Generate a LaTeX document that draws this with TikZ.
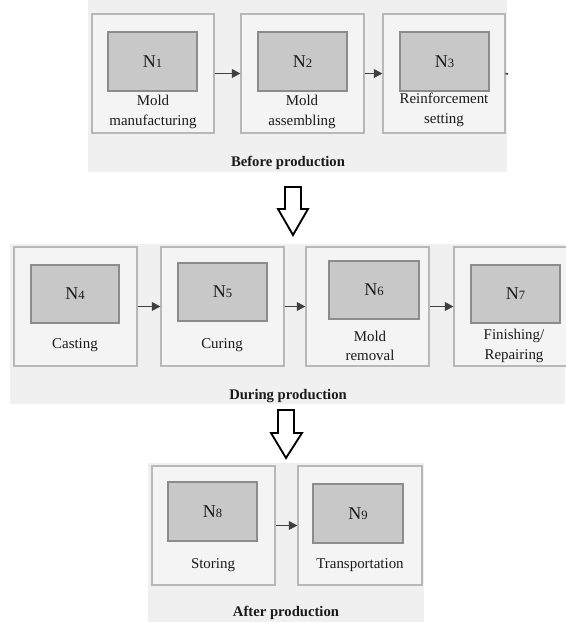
\documentclass[tikz,border=0pt]{standalone}
\usepackage{fontspec}
\setmainfont{Liberation Serif}
\usetikzlibrary{arrows.meta,fit}
\definecolor{panelc}{HTML}{F0F0F0}
\definecolor{outerf}{HTML}{F4F4F4}
\definecolor{outerd}{HTML}{B8B8B8}
\definecolor{innerf}{HTML}{C8C8C8}
\definecolor{innerd}{HTML}{8C8C8C}
\definecolor{arrc}{HTML}{404040}
\definecolor{txt}{HTML}{1A1A1A}
\newcommand{\nlab}[1]{{\fontsize{13.5}{15}\selectfont N\fontsize{9.5}{10}\selectfont #1}}
\begin{document}
\begin{tikzpicture}[x=0.75pt,y=-0.75pt,
  panel/.style={fill=panelc,draw=none},
  outerbox/.style={draw=outerd,fill=outerf,line width=0.8pt,inner sep=0pt},
  innerbox/.style={draw=innerd,fill=innerf,line width=0.8pt,inner sep=0pt},
  lbl/.style={text=txt,font=\fontsize{11.2}{14.6}\selectfont,align=center,inner sep=0pt},
  ttl/.style={text=txt,font=\fontsize{11}{12.5}\selectfont\bfseries,inner sep=0pt},
  flow/.style={draw=arrc,line width=1.3pt,-{Triangle[length=6.5pt,width=6.5pt]}},
  bigarrow/.style={draw=black,fill=white,line width=1.4pt,line join=miter}
]
\useasboundingbox (0,0) rectangle (565,622);
% panels
\fill[panel] (88,0) rectangle (507,172);
\fill[panel] (10,244) rectangle (565,404);
\fill[panel] (148,463) rectangle (424,622);

% --- Before production
\node[outerbox, fit={(92,14) (214,133)}] (b1) {};
\node[innerbox, fit={(108,32) (197,91)}] (i1) {};
\node[text=txt,inner sep=0pt] (n1) at (i1) {\nlab{1}};
\node[lbl] (l1) at (153,112) {Mold\\manufacturing};

\node[outerbox, fit={(241,14) (364,133)}] (b2) {};
\node[innerbox, fit={(258,32) (347,91)}] (i2) {};
\node[text=txt,inner sep=0pt] (n2) at (i2) {\nlab{2}};
\node[lbl] (l2) at (302,112) {Mold\\assembling};

\node[outerbox, fit={(383,14) (505,133)}] (b3) {};
\node[innerbox, fit={(400,32) (489,91)}] (i3) {};
\node[text=txt,inner sep=0pt] (n3) at (i3) {\nlab{3}};
\node[lbl] (l3) at (444,110) {Reinforcement\\setting};
\coordinate (c3) at (508,74);

\draw[flow] (b1) -- (b2);
\draw[flow] (b2) -- (b3);
\draw[arrc,line width=1.2pt] (b3.east) -- (c3);
\node[ttl] (t1) at (288,163) {Before production};

% big arrow 1
\draw[bigarrow] (285,187) -- (301,187) -- (301,209) -- (308,209) -- (293,235) -- (278,209) -- (285,209) -- cycle;

% --- During production
\node[outerbox, fit={(14,247) (137,366)}] (b4) {};
\node[innerbox, fit={(31,265) (119,323)}] (i4) {};
\node[text=txt,inner sep=0pt] (n4) at (i4) {\nlab{4}};
\node[lbl] (l4) at (75,345) {Casting};

\node[outerbox, fit={(161,247) (284,366)}] (b5) {};
\node[innerbox, fit={(178,263) (267,321)}] (i5) {};
\node[text=txt,inner sep=0pt] (n5) at (i5) {\nlab{5}};
\node[lbl] (l5) at (222,345) {Curing};

\node[outerbox, fit={(306,247) (429,366)}] (b6) {};
\node[innerbox, fit={(329,261) (419,319)}] (i6) {};
\node[text=txt,inner sep=0pt] (n6) at (i6) {\nlab{6}};
\node[lbl] (l6) at (370,346) {Mold\\removal};

\node[outerbox, fit={(454,247) (568,366)}] (b7) {};
\node[innerbox, fit={(471,265) (560,323)}] (i7) {};
\node[text=txt,inner sep=0pt] (n7) at (i7) {\nlab{7}};
\node[lbl] (l7) at (514,346) {Finishing/\\Repairing};

\draw[flow] (b4) -- (b5);
\draw[flow] (b5) -- (b6);
\draw[flow] (b6) -- (b7);
\node[ttl] (t2) at (288,396) {During production};

% big arrow 2
\draw[bigarrow] (278,410) -- (294,410) -- (294,433) -- (302,433) -- (286,458) -- (271,433) -- (278,433) -- cycle;

% --- After production
\node[outerbox, fit={(152,466) (275,585)}] (b8) {};
\node[innerbox, fit={(168,482) (257,541)}] (i8) {};
\node[text=txt,inner sep=0pt] (n8) at (i8) {\nlab{8}};
\node[lbl] (l8) at (213,565) {Storing};

\node[outerbox, fit={(298,466) (422,585)}] (b9) {};
\node[innerbox, fit={(313,484) (403,543)}] (i9) {};
\node[text=txt,inner sep=0pt] (n9) at (i9) {\nlab{9}};
\node[lbl] (l9) at (360,565) {Transportation};

\draw[flow] (b8) -- (b9);
\node[ttl] (t3) at (286,613) {After production};
\end{tikzpicture}
\end{document}
